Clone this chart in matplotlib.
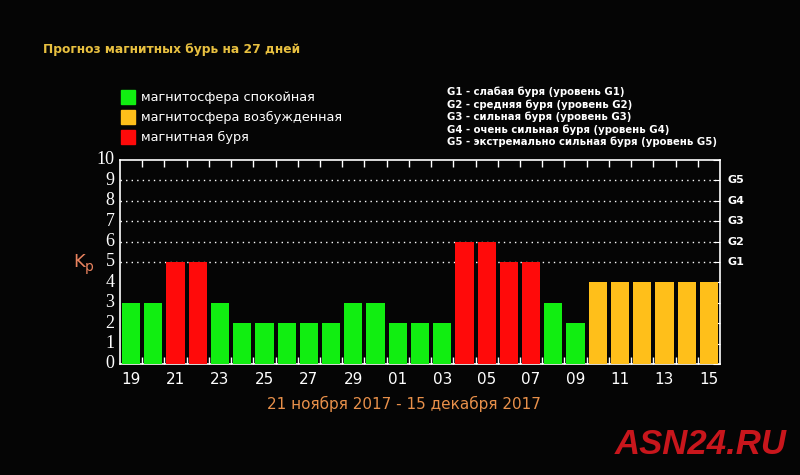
import matplotlib
matplotlib.use("Agg")
import matplotlib.pyplot as plt
import numpy as np

days = ["19", "20", "21", "22", "23", "24", "25", "26", "27", "28", "29", "30",
        "01", "02", "03", "04", "05", "06", "07", "08", "09", "10", "11", "12",
        "13", "14", "15"]
kp = [3, 3, 5, 5, 3, 2, 2, 2, 2, 2, 3, 3, 2, 2, 2, 6, 6, 5, 5, 3, 2, 4, 4, 4, 4, 4, 4]
state = ["q", "q", "s", "s", "q", "q", "q", "q", "q", "q", "q", "q", "q", "q", "q",
         "s", "s", "s", "s", "q", "q", "a", "a", "a", "a", "a", "a"]
legend_labels = ["магнитосфера спокойная", "магнитосфера возбужденная", "магнитная буря"]
g_lines = ["G1 - слабая буря (уровень G1)",
           "G2 - средняя буря (уровень G2)",
           "G3 - сильная буря (уровень G3)",
           "G4 - очень сильная буря (уровень G4)",
           "G5 - экстремально сильная буря (уровень G5)"]
g_levels = ["G1", "G2", "G3", "G4", "G5"]
g_values = [5, 6, 7, 8, 9]

colors = {"q": "#11ee11", "a": "#ffbf1a", "s": "#ff0a0a"}
legend_colors = [colors["q"], colors["a"], colors["s"]]

W, H = 800, 475
fig = plt.figure(figsize=(8, 4.75), dpi=100, facecolor="#050505")

def px(x, y):
    return x / W, 1 - y / H

ax = fig.add_axes([120 / W, 1 - 364 / H, 600 / W, 204 / H])
ax.set_facecolor("#050505")
x = np.arange(len(days))
ax.bar(x, kp, width=0.82, color=[colors[s] for s in state], zorder=3)
ax.set_xlim(-0.5, len(days) - 0.5)
ax.set_ylim(0, 10)

for v in g_values:
    ax.axhline(v, color="white", linestyle=(0, (1, 3)), linewidth=1.0, zorder=1)

for sp in ax.spines.values():
    sp.set_color("white")
    sp.set_linewidth(1.2)

# x ticks: labels every other day at bar centers, tick marks at bar boundaries
ax.set_xticks(x[::2])
ax.set_xticklabels(days[::2], color="white", fontsize=11, family="DejaVu Sans")
ax.tick_params(axis="x", which="major", length=0, pad=6)
ax.set_xticks(np.arange(0.5, len(days) - 0.5, 1), minor=True)
ax.tick_params(axis="x", which="minor", direction="in", length=5, color="white",
               top=True, bottom=True, width=1)

ax.set_yticks(range(0, 11))
ax.set_yticklabels([str(i) for i in range(11)], color="white", fontsize=13,
                   family="Liberation Serif")
ax.tick_params(axis="y", which="major", left=False, right=True, direction="in",
               length=5, color="white", pad=4)
for lab in ax.get_yticklabels():
    lab.set_verticalalignment("center")

# G level labels on the right
for gl, gv in zip(g_levels, g_values):
    ax.text(1.012, gv, gl, transform=ax.get_yaxis_transform(), color="white",
            fontsize=8, fontweight="bold", va="center", ha="left", family="DejaVu Sans")

# Kp label
fig.text(*px(73, 262), "K", color="#e8825e", fontsize=13, va="center", ha="left",
         family="DejaVu Sans")
fig.text(*px(85, 267), "p", color="#e8825e", fontsize=10, va="center", ha="left",
         family="DejaVu Sans")

# title
fig.text(*px(43, 50), "Прогноз магнитных бурь на 27 дней", color="#e8c040",
         fontsize=8.8, fontweight="bold", va="center", ha="left", family="DejaVu Sans")

# legend
for i, (lab, c) in enumerate(zip(legend_labels, legend_colors)):
    yy = 97 + i * 20
    fig.patches.append(plt.Rectangle(px(121, yy + 7), 14 / W, 14 / H, color=c,
                                     transform=fig.transFigure, figure=fig))
    fig.text(*px(141, yy), lab, color="white", fontsize=9.3, va="center", ha="left",
             family="DejaVu Sans")

# G descriptions
for i, g in enumerate(g_lines):
    fig.text(*px(447, 92 + i * 12.5), g, color="white", fontsize=7.3,
             fontweight="bold", va="center", ha="left", family="DejaVu Sans")

# date range
fig.text(*px(404, 404), "21 ноября 2017 - 15 декабря 2017", color="#e8904a",
         fontsize=11, va="center", ha="center", family="DejaVu Sans")

# watermark
fig.text(*px(787, 445), "ASN24.RU", color="#c8161c", fontsize=25,
         fontweight="bold", fontstyle="italic", va="center", ha="right",
         family=["Liberation Sans Narrow", "Liberation Sans"])

fig.savefig("out.png", dpi=100, facecolor=fig.get_facecolor())
